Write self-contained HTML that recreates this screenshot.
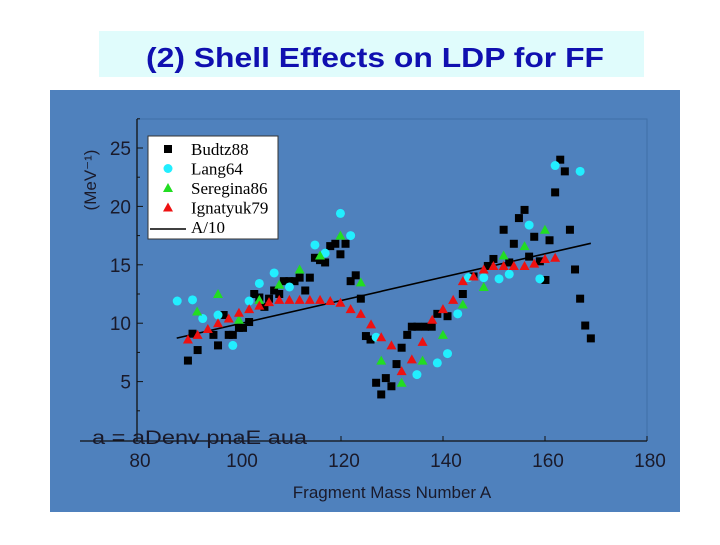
<!DOCTYPE html>
<html><head><meta charset="utf-8"><style>
body{margin:0;width:720px;height:540px;background:#fff;overflow:hidden;font-family:"Liberation Sans",sans-serif}
</style></head><body>
<svg width="720" height="540">
<rect x="99" y="31" width="545" height="46" fill="#e0fcfc"/>
<text x="146" y="67" font-size="28" font-weight="bold" fill="#1010b0" font-family="Liberation Sans" textLength="458" lengthAdjust="spacingAndGlyphs">(2) Shell Effects on LDP for FF</text>
<rect x="50" y="90" width="630" height="422" fill="#4f81bd"/>
<g id="chart"></g>
</svg>
<script>
const xTicks=[80,100,120,140,160,180];
const yTicks=[5,10,15,20,25];
const budtzA=[89.4,90.3,91.3,94.4,95.3,96.4,97.4,98.2,99.4,100.2,101.4,102.4,103.4,104.4,105.3,106.3,107.3,108.2,109.3,110.3,111.3,112.4,113.3,114.3,115.3,116.3,117.3,118.3,119.3,120.3,121.3,122.3,123.3,124.3,125.2,126.3,127.3,128.2,129.3,130.3,131.3,132.4,133.3,134.4,135.9,137.2,138.3,140.3,143.3,145.4,148.2,149.3,151.3,152.4,153.3,154.3,155.4,156.3,157.3,158.4,159.5,160.3,161.4,162.4,163.3,164.3,165.3,166.3,167.3,168.4];
const budtzY=[6.8,9.1,7.7,9.0,8.1,10.7,9.0,9.0,9.6,9.6,10.1,12.5,12.2,11.4,12.1,12.8,12.5,13.6,13.6,13.6,13.9,12.8,13.9,15.6,15.4,15.2,16.6,16.8,15.9,16.8,13.6,14.1,12.1,8.9,8.6,4.9,3.9,5.3,4.6,6.5,7.9,9.0,9.7,9.7,9.7,9.7,10.8,10.6,12.5,14.0,14.9,15.5,18.0,15.2,16.8,19.0,19.7,15.7,17.4,15.3,13.7,17.1,21.2,24.0,23.0,18.0,14.6,12.1,9.8,8.7];
const langA=[87.3,90.3,92.3,95.3,98.2,101.4,103.4,106.3,109.3,114.3,116.3,119.3,121.3,126.3,134.3,138.3,140.3,142.3,144.4,147.4,150.4,152.4,156.3,158.4,161.4,166.3];
const langY=[11.9,12.0,10.4,10.7,8.1,11.9,13.4,14.3,13.1,16.7,16.0,19.4,17.5,8.8,5.6,6.6,7.4,10.8,13.9,13.9,13.8,14.2,18.4,13.8,23.5,23.0];
const seregA=[91.2,95.3,99.4,103.4,107.3,111.3,115.3,119.3,123.3,127.3,131.3,135.4,139.4,143.3,147.4,151.3,155.4,159.4];
const seregY=[11.0,12.5,10.3,12.0,13.3,14.6,15.8,17.5,13.5,6.8,4.9,6.8,9.0,11.6,13.1,15.8,16.6,18.0];
const ignA=[89.4,91.3,93.3,95.3,97.4,99.4,101.4,103.4,105.3,107.3,109.3,111.3,113.3,115.3,117.3,119.3,121.3,123.3,125.3,127.3,129.3,131.3,133.3,135.4,137.3,139.4,141.4,143.3,145.4,147.4,149.3,151.3,153.3,155.4,157.3,159.4,161.4];
const ignY=[8.6,9.0,9.5,10.0,10.4,10.9,11.2,11.5,11.8,12.0,12.0,12.0,12.0,12.0,11.9,11.75,11.2,10.8,9.9,8.8,8.1,5.9,6.9,8.4,10.3,11.2,12.0,13.6,14.0,14.6,14.9,14.9,14.9,14.9,15.1,15.5,15.6];
const lineA=[87.2,168.4];
const NS='http://www.w3.org/2000/svg';
const g=document.getElementById('chart');
const sx=a=>140+(a-80)*5.1;
const sy=v=>440-v*11.68;
function mk(t,at,p){const e=document.createElementNS(NS,t);for(const k in at)e.setAttribute(k,at[k]);(p||g).appendChild(e);return e;}
let fr=mk('path',{d:'M137,119 H647 V441',fill:'none',stroke:'#3f6fa8','stroke-width':1});


let ya=mk('line',{x1:137,y1:119,x2:137,y2:441,stroke:'#111','stroke-width':1.3});


let xa=mk('line',{x1:80,y1:441,x2:647,y2:441,stroke:'#111','stroke-width':1.3});


for(let v=2.5;v<=27.5;v+=2.5){let t=mk('line',{x1:137,y1:sy(v),x2:(v%5==0)?143:140,y2:sy(v),stroke:'#111'});

}
yTicks.forEach(v=>{let t=mk('text',{x:131,y:sy(v)+7,'text-anchor':'end','font-size':19,fill:'#1a1a2a'});t.textContent=v;

});
xTicks.forEach(v=>{let t=mk('text',{x:sx(v),y:467,'text-anchor':'middle','font-size':19,fill:'#1a1a2a'});t.textContent=v;


let k=mk('line',{x1:sx(v)-3,y1:441,x2:sx(v)-3,y2:436,stroke:'#111'});

});
let xt=mk('text',{x:392,y:498,'text-anchor':'middle','font-size':17,fill:'#1a1a2a'});xt.textContent='Fragment Mass Number A';


let yt=mk('text',{x:0,y:0,'text-anchor':'middle','font-size':17,fill:'#1a1a2a',transform:'translate(96,180) rotate(-90)'});yt.textContent='(MeV⁻¹)';


let gt=mk('text',{x:92,y:444,'font-size':19,fill:'#1a1a2a','textLength':215,lengthAdjust:'spacingAndGlyphs'});gt.textContent='a = aDenv pnaE aua';


let ln=mk('line',{x1:sx(lineA[0]),y1:sy(lineA[0]/10),x2:sx(lineA[1]),y2:sy(lineA[1]/10),stroke:'#000','stroke-width':1.6});


function sq(x,y,c){return mk('rect',{x:x-4,y:y-4,width:8,height:8,fill:c});}
function ci(x,y,c){return mk('circle',{cx:x,cy:y,r:4.5,fill:c});}
function tr(x,y,c){return mk('polygon',{points:`${x-5},${y+4} ${x+5},${y+4} ${x},${y-5}`,fill:c});}
budtzA.forEach((a,i)=>{let e=sq(sx(a),sy(budtzY[i]),'#000');

});
langA.forEach((a,i)=>{let e=ci(sx(a),sy(langY[i]),'#22eeff');

});
seregA.forEach((a,i)=>{let e=tr(sx(a),sy(seregY[i]),'#22dd22');

});
ignA.forEach((a,i)=>{let e=tr(sx(a),sy(ignY[i]),'#ee1111');

});
let lb=mk('rect',{x:148,y:136,width:130,height:103,fill:'#fff',stroke:'#333'});


const names=['Budtz88','Lang64','Seregina86','Ignatyuk79','A/10'];
names.forEach((n,i)=>{const y=149+i*19.5;let m;
if(i==0)m=sq(168,y,'#000');else if(i==1)m=ci(168,y,'#22eeff');else if(i==2)m=tr(168,y,'#22dd22');else if(i==3)m=tr(168,y,'#ee1111');else m=mk('line',{x1:150,y1:y+2,x2:186,y2:y+2,stroke:'#000','stroke-width':1.6});


let t=mk('text',{x:191,y:y+6,'font-size':17,fill:'#000','font-family':'Liberation Serif'});t.textContent=n;

});
</script>
</body></html>
